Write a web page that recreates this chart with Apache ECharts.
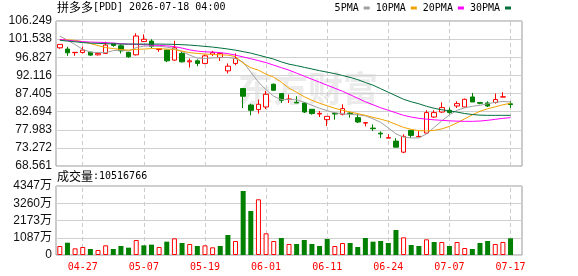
<!DOCTYPE html>
<html>
<head>
<meta charset="utf-8">
<script src="https://cdn.jsdelivr.net/npm/echarts@6/dist/echarts.min.js"></script>
<style>
html, body { margin: 0; padding: 0; background: #fff; }
#main { width: 578px; height: 276px; }
</style>
</head>
<body>
<div id="main"></div>
<script>
const stockName = '拼多多';
const stockCode = '[PDD]';
const stampTime = '2026-07-18 04:00';

const dates = ['04-22','04-23','04-24','04-27','04-28','04-29','04-30','05-01','05-04','05-05',
    '05-06','05-07','05-08','05-11','05-12','05-13','05-14','05-15','05-18','05-19',
    '05-20','05-21','05-22','05-26','05-27','05-28','05-29','06-01','06-02','06-03',
    '06-04','06-05','06-08','06-09','06-10','06-11','06-12','06-15','06-16','06-17',
    '06-18','06-22','06-23','06-24','06-25','06-26','06-29','06-30','07-01','07-02',
    '07-06','07-07','07-08','07-09','07-10','07-13','07-14','07-15','07-16','07-17'];

// open, close, low, high
const kline = [
    [99.28, 100.17, 99.03, 100.17], [98.95, 97.98, 97.20, 99.55], [98.02, 98.10, 97.20, 98.12],
    [98.08, 98.69, 97.80, 99.55], [98.16, 97.38, 97.20, 98.20], [97.46, 97.83, 97.30, 97.98],
    [97.83, 100.00, 97.64, 100.85], [100.43, 99.90, 99.55, 100.50], [99.80, 98.50, 97.83, 100.17],
    [98.09, 96.94, 96.68, 98.24], [97.46, 102.34, 97.30, 103.04], [100.90, 101.50, 100.85, 102.78],
    [101.03, 99.65, 99.20, 101.50], [98.82, 99.08, 98.25, 99.13], [98.68, 95.90, 95.56, 98.86],
    [96.08, 99.29, 95.90, 101.10], [97.83, 95.63, 95.48, 98.24], [95.63, 95.90, 94.17, 96.50],
    [95.90, 95.22, 94.51, 96.26], [95.22, 97.20, 95.03, 97.56], [97.64, 98.09, 97.12, 98.50],
    [96.78, 97.83, 95.90, 98.09], [93.29, 94.51, 92.61, 95.22], [95.22, 96.52, 94.77, 97.83],
    [88.70, 86.69, 83.64, 88.70], [84.42, 83.04, 81.73, 84.78], [83.22, 84.60, 82.18, 85.83],
    [83.90, 87.21, 83.38, 88.07], [89.82, 88.25, 88.07, 90.00], [87.39, 85.64, 84.94, 87.39],
    [85.83, 85.98, 84.94, 87.13], [85.12, 84.94, 84.94, 86.69], [84.94, 82.59, 82.33, 85.20],
    [83.30, 82.18, 81.92, 83.30], [82.07, 82.25, 81.29, 82.85], [80.61, 81.47, 78.94, 81.47],
    [82.25, 82.07, 80.61, 82.51], [82.00, 83.48, 81.73, 84.60], [82.33, 82.18, 81.13, 82.59],
    [81.13, 80.00, 79.72, 82.18], [79.72, 79.83, 78.86, 80.00], [78.42, 78.26, 77.64, 79.38],
    [77.09, 76.90, 75.81, 77.56], [75.81, 75.92, 75.81, 76.78], [75.03, 73.46, 73.46, 75.81],
    [72.16, 76.26, 71.90, 76.78], [77.82, 76.52, 75.81, 77.82], [76.18, 76.26, 76.07, 77.64],
    [77.12, 82.44, 76.96, 83.04], [81.29, 82.44, 81.03, 83.04], [82.59, 83.74, 82.33, 85.12],
    [83.04, 82.44, 82.18, 83.74], [84.16, 84.78, 83.64, 85.38], [83.90, 85.90, 83.74, 86.09],
    [86.50, 85.20, 85.20, 87.55], [85.05, 84.86, 84.60, 85.20], [84.94, 84.16, 83.90, 85.38],
    [85.05, 85.83, 84.78, 87.39], [86.48, 86.55, 86.48, 87.73], [84.73, 84.52, 83.64, 85.38]
];

const ma5 = [102.34, 101.29, 100.12, 98.87, 98.16, 98.03, 98.03, 98.56, 98.69, 98.42,
    99.34, 99.73, 99.73, 99.65, 99.47, 99.08, 98.29, 97.38, 96.60, 96.52,
    96.65, 96.73, 96.78, 96.47, 95.56, 92.95, 90.34, 88.38, 86.69, 85.83,
    85.83, 85.78, 85.12, 84.34, 83.56, 82.96, 82.39, 82.12, 81.99, 81.86,
    81.60, 80.82, 79.91, 78.47, 76.91, 76.07, 75.86, 75.86, 76.91, 78.60,
    80.30, 81.86, 83.04, 83.69, 84.08, 84.34, 84.73, 85.12, 85.33, 85.20];
const ma10 = [101.45, 101.35, 101.22, 100.90, 100.38, 99.86, 99.34, 99.08, 98.82, 98.69,
    98.87, 98.95, 99.08, 99.08, 98.95, 98.82, 98.42, 98.03, 97.83, 97.64,
    97.56, 97.46, 97.38, 96.99, 95.29, 94.12, 93.47, 92.43, 91.64, 90.34,
    88.77, 87.73, 86.56, 85.64, 84.86, 84.21, 83.56, 83.04, 82.59, 82.18,
    81.73, 81.21, 80.74, 80.17, 79.38, 78.60, 78.08, 77.74, 77.69, 77.82,
    78.21, 78.86, 79.78, 80.82, 81.86, 82.78, 83.43, 83.95, 84.47, 84.86];
const ma20 = [101.45, 101.24, 101.03, 100.88, 100.77, 100.72, 100.64, 100.51, 100.35, 100.25,
    100.17, 100.09, 99.99, 99.91, 99.78, 99.60, 99.21, 98.74, 98.42, 98.24,
    98.16, 98.03, 97.77, 97.38, 96.91, 96.44, 95.95, 95.43, 94.77, 94.12,
    93.47, 92.69, 91.90, 91.12, 90.34, 89.56, 88.77, 87.99, 87.08, 86.17,
    85.25, 84.47, 83.69, 83.04, 82.39, 81.73, 81.29, 80.95, 80.74, 80.56,
    80.43, 80.30, 80.22, 80.17, 80.17, 80.25, 80.43, 80.69, 80.95, 81.13];
const ma30 = [101.24, 101.03, 100.85, 100.64, 100.51, 100.43, 100.35, 100.30, 100.25, 100.25,
    100.25, 100.25, 100.25, 100.25, 100.22, 100.17, 100.09, 99.99, 99.83, 99.65,
    99.47, 99.23, 98.97, 98.66, 98.29, 97.90, 97.38, 96.86, 96.34, 95.61,
    95.03, 94.64, 94.20, 93.78, 93.34, 92.95, 92.56, 92.09, 91.59, 91.00,
    90.26, 89.56, 88.65, 87.73, 86.82, 85.90, 85.25, 84.73, 84.08, 83.56,
    83.17, 82.91, 82.57, 82.20, 81.94, 81.78, 81.73, 81.73, 81.73, 81.73];

// volume in 万 shares, and whether the bar is drawn as a rise (red)
const volumeWan = [567, 775, 420, 504, 378, 315, 609, 378, 567, 462,
    945, 609, 651, 504, 840, 1050, 756, 693, 567, 609,
    483, 567, 1260, 882, 4032, 2772, 3509, 1367, 882, 1071,
    693, 693, 945, 693, 567, 1008, 567, 756, 756, 504,
    1071, 840, 882, 756, 1575, 1113, 630, 567, 987, 819,
    819, 567, 819, 441, 378, 756, 882, 693, 819, 1051.6766];
const volumeRise = [1, 0, 1, 1, 0, 1, 1, 0, 0, 0,
    1, 0, 0, 1, 0, 1, 0, 1, 0, 1,
    1, 0, 0, 1, 0, 0, 1, 1, 1, 0,
    1, 0, 0, 0, 0, 0, 1, 1, 0, 0,
    0, 0, 0, 0, 0, 1, 0, 0, 1, 0,
    1, 0, 1, 1, 0, 0, 0, 1, 1, 0];

const priceTicks = [68.561, 73.272, 77.983, 82.694, 87.405, 92.116, 96.827, 101.538, 106.249];
const volumeTicks = [0, 1086.7, 2173.4, 3260.1, 4346.8];

const RED = '#ff0000';
const GREEN = '#008000';
const monoFont = '"DejaVu Sans Mono", monospace';
const cjkFont = '"Noto Sans CJK SC", sans-serif';
const labelEvery = function (i) { return i % 8 === 3; };

// 中文用 12px，数字用等宽 10px（接近宋体半角宽度）
const headRich = {
    c: { fontSize: 12, fontFamily: cjkFont, fontWeight: 'normal', color: '#000' },
    m: { fontSize: 10, fontFamily: monoFont, fontWeight: 'normal', color: '#000' }
};

const chart = echarts.init(document.getElementById('main'));
const cats = dates.concat(['']);

const option = {
    animation: false,
    backgroundColor: '#fff',
    title: [
        {
            text: '{c|' + stockName + '}{m|' + stockCode + ' ' + stampTime + '}',
            left: 57, top: 1, padding: 0,
            textStyle: { fontWeight: 'normal', rich: headRich }
        },
        {
            text: '{c|成交量}{m|:' + Math.round(volumeWan[volumeWan.length - 1] * 10000) + '}',
            left: 57, top: 170, padding: 0,
            textStyle: { fontWeight: 'normal', rich: headRich }
        }
    ],
    legend: {
        right: 67, top: 3, padding: 0,
        icon: 'rect', itemWidth: 6, itemHeight: 3, itemGap: 6, align: 'right',
        selectedMode: false,
        textStyle: { fontSize: 10, color: '#000', fontFamily: monoFont },
        data: ['5PMA', '10PMA', '20PMA', '30PMA']
    },
    graphic: [{
        type: 'text', left: 238, top: 71, z: 0, silent: true,
        style: { text: '东方财富', fill: '#ebebeb', font: 'bold 35px "Noto Sans CJK SC"' }
    }],
    grid: [
        { left: 56, right: 56, top: 21, height: 145, show: true, borderColor: '#999', borderWidth: 1 },
        { left: 56, right: 56, top: 186, height: 69, show: true, borderColor: '#999', borderWidth: 1 }
    ],
    xAxis: [
        {
            type: 'category', gridIndex: 0, data: cats, boundaryGap: true,
            axisLine: { show: false },
            axisTick: { show: true, inside: true, length: 145, alignWithLabel: true, interval: labelEvery,
                lineStyle: { color: '#ccc', type: [4, 3] } },
            axisLabel: { show: false, interval: labelEvery },
            splitLine: { show: false }
        },
        {
            type: 'category', gridIndex: 1, data: cats, boundaryGap: true,
            axisLine: { show: false },
            axisTick: { show: true, inside: true, length: 69, alignWithLabel: true, interval: labelEvery,
                lineStyle: { color: '#ccc', type: [4, 3] } },
            axisLabel: { interval: labelEvery, color: RED, fontSize: 10, fontFamily: monoFont, margin: 7 },
            splitLine: { show: false }
        }
    ],
    yAxis: [
        {
            type: 'value', gridIndex: 0,
            min: priceTicks[0], max: priceTicks[priceTicks.length - 1],
            interval: +(priceTicks[1] - priceTicks[0]).toFixed(3),
            axisLine: { show: false }, axisTick: { show: false },
            axisLabel: { color: '#111', fontSize: 12, fontFamily: 'Liberation Sans', margin: 4,
                formatter: function (v) { return v.toFixed(3); } },
            splitLine: { lineStyle: { color: '#d0d0d0' } }
        },
        {
            type: 'value', gridIndex: 1,
            min: volumeTicks[0], max: volumeTicks[volumeTicks.length - 1],
            interval: volumeTicks[1],
            axisLine: { show: false }, axisTick: { show: false },
            axisLabel: { color: '#111', fontSize: 12, fontFamily: 'Liberation Sans, "Noto Sans CJK SC"', margin: 4,
                formatter: function (v) { return v === 0 ? '0' : Math.round(v) + '万'; } },
            splitLine: { lineStyle: { color: '#d0d0d0' } }
        }
    ],
    series: [
        {
            name: 'K', type: 'candlestick', xAxisIndex: 0, yAxisIndex: 0,
            data: kline, barWidth: 5,
            itemStyle: { color: '#fff', color0: GREEN, borderColor: RED, borderColor0: GREEN, borderWidth: 1 }
        },
        { name: '5PMA', type: 'line', data: ma5, symbol: 'none', lineStyle: { width: 1, color: '#a0a0a0' }, itemStyle: { color: '#a0a0a0' } },
        { name: '10PMA', type: 'line', data: ma10, symbol: 'none', lineStyle: { width: 1, color: '#f2a200' }, itemStyle: { color: '#f2a200' } },
        { name: '20PMA', type: 'line', data: ma20, symbol: 'none', lineStyle: { width: 1, color: '#ff00ff' }, itemStyle: { color: '#ff00ff' } },
        { name: '30PMA', type: 'line', data: ma30, symbol: 'none', lineStyle: { width: 1, color: '#006f3c' }, itemStyle: { color: '#006f3c' } },
        {
            name: 'VOL', type: 'bar', xAxisIndex: 1, yAxisIndex: 1, barWidth: 5,
            data: volumeWan.map(function (v, i) {
                return {
                    value: v,
                    itemStyle: volumeRise[i]
                        ? { color: '#fff', borderColor: RED, borderWidth: 1 }
                        : { color: GREEN }
                };
            })
        }
    ]
};

chart.setOption(option);
</script>
</body>
</html>
